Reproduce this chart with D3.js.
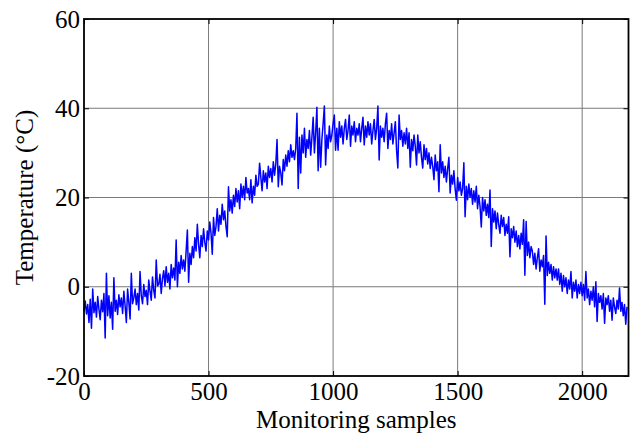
<!DOCTYPE html>
<html>

<head>
    <meta charset="utf-8">
    <script src="https://d3js.org/d3.v7.min.js"></script>
    <style>
        body { margin: 0; background: #fff; }
        text { font-family: "Liberation Serif", "Times New Roman", serif; }
    </style>
    <script>
        // temperature readings, one every 5 monitoring samples
        const sampleStep = 5
        const temperature = [
            -5.5, -3.2, -6.1, -4.0, -8.0, -2.8, -9.3, -0.5, -5.8, -3.5, -6.8, -2.2, -5.0, -7.4, -3.0, -5.6, -1.5, -11.5, 3.0, -6.5,
            -2.0, -7.0, -3.5, -9.5, 2.0, -5.5, -3.0, -6.2, -1.8, -4.5, -2.5, -6.0, -1.0, -4.2, -8.0, -0.5, -3.5, -7.2, 3.0, -3.8,
            -2.5, -0.5, -4.0, -1.5, -5.2, 3.4, -2.0, -3.8, 0.5, -2.2, -0.8, -4.0, 1.5, -1.0, -3.0, 2.2, -0.8, -2.5, 6.0, 0.2,
            0.5, 2.8, -1.5, 1.8, 3.6, 0.2, 4.5, 1.0, 3.0, -0.5, 5.0, 2.0, 4.2, 1.5, 10.5, 0.0, 5.5, 3.0, 7.0, 4.0,
            6.0, 3.5, 8.0, 12.7, 1.0, 7.5, 5.0, 9.0, 6.5, 11.0, 8.0, 14.0, 9.5, 6.5, 11.5, 9.0, 13.0, 10.0, 8.0, 12.5,
            10.5, 14.5, 12.0, 7.3, 15.5, 11.5, 13.5, 17.5, 12.5, 16.0, 14.0, 18.5, 15.0, 17.0, 13.5, 11.2, 22.4, 17.0, 19.5, 16.5,
            20.5, 18.0, 22.0, 19.0, 21.5, 17.5, 23.0, 20.0, 22.5, 19.5, 24.5, 21.0, 22.0, 19.5, 24.0, 18.8, 22.5, 20.5, 25.0, 22.5,
            23.0, 27.7, 24.5, 21.5, 26.0, 23.5, 25.5, 22.0, 27.0, 24.5, 26.5, 23.5, 28.0, 25.0, 27.5, 33.0, 22.4, 27.0, 25.5, 22.8,
            28.5, 26.0, 29.5, 27.0, 30.5, 28.0, 31.8, 29.0, 30.5, 28.5, 31.0, 38.9, 22.0, 33.5, 25.5, 34.0, 30.0, 35.5, 29.0, 33.0,
            31.0, 35.0, 29.5, 33.5, 38.0, 30.0, 34.5, 40.2, 26.0, 35.5, 26.8, 33.0, 36.5, 40.5, 27.3, 34.0, 31.0, 36.0, 32.5, 34.0,
            36.5, 38.5, 30.6, 35.5, 30.6, 37.0, 33.5, 36.0, 32.0, 35.5, 37.5, 33.0, 35.0, 38.5, 31.5, 36.0, 34.0, 37.0, 32.5, 35.5,
            34.0, 36.5, 32.5, 35.5, 38.0, 31.8, 36.0, 33.5, 37.0, 34.0, 36.5, 32.0, 35.0, 37.5, 33.0, 35.5, 40.5, 28.4, 36.0, 33.5,
            35.5, 32.5, 36.5, 38.9, 31.0, 35.0, 33.0, 36.5, 32.0, 34.5, 37.0, 30.5, 26.6, 38.5, 33.0, 35.0, 31.5, 34.5, 32.0, 35.5,
            31.0, 34.5, 26.8, 33.0, 30.5, 34.0, 31.5, 27.3, 34.0, 30.0, 32.5, 29.0, 26.6, 31.8, 28.5, 31.0, 27.5, 30.0, 26.5, 29.0,
            27.0, 24.0, 29.5, 26.0, 28.0, 21.3, 31.8, 25.5, 28.0, 24.5, 27.0, 23.5, 26.5, 29.0, 21.0, 25.0, 23.0, 26.0, 22.0, 19.4,
            24.5, 21.5, 23.5, 20.5, 22.0, 27.8, 15.7, 22.5, 19.5, 23.0, 20.0, 22.0, 18.5, 21.5, 19.0, 22.5, 17.5, 20.5, 18.0, 13.4,
            20.0, 17.0, 19.5, 16.0, 18.5, 15.5, 21.7, 9.0, 17.5, 14.5, 17.0, 13.0, 16.5, 14.0, 12.0, 16.0, 13.5, 15.5, 11.5, 14.0,
            12.0, 15.7, 6.7, 13.0, 11.0, 13.5, 10.0, 12.5, 9.0, 11.5, 8.5, 12.0, 9.5, 15.0, 2.6, 14.6, 7.0, 10.0, 6.5, 9.0,
            8.0, 5.0, 7.5, 4.0, 6.5, 8.5, 3.5, 6.0, 4.5, 7.0, -3.9, 11.4, 2.5, 5.5, 3.0, 5.0, 1.5, 4.5, 2.0, 4.0,
            1.5, 4.0, 0.5, 3.0, -1.0, 2.5, 0.0, 2.0, -1.5, 1.5, -0.5, 3.4, -2.5, 1.0, -1.0, 1.5, -2.5, 0.5, -1.5, 1.0,
            -2.0, 0.5, -3.0, 3.4, -2.5, -0.5, -4.0, -1.0, -3.0, 0.0, -4.5, 1.1, -7.8, -1.5, -3.5, -2.0, -5.0, -1.5, -8.2, -2.5,
            -4.0, -2.0, -5.5, -3.0, -7.5, -2.5, -4.5, -6.0, -3.0, -5.0, -0.3, -5.5, -3.5, -6.5, -4.0, -8.4, -4.5
        ]
        const xTicks = [0, 500, 1000, 1500, 2000]
        const yTicks = [-20, 0, 20, 40, 60]
        const xDomain = [0, 2186]
        const yDomain = [-20, 60]
        const xTitle = "Monitoring samples"
        const yTitle = "Temperature (\u00B0C)"

        const plotLeft = 84, plotRight = 628.5, plotTop = 19, plotBottom = 376

        // plain hyphen minus, no thousands separator
        const tickText = d => String(d)

        function drawChart() {
            const svg = d3.select("#svgContainer")
            const x = d3.scaleLinear().domain(xDomain).range([plotLeft, plotRight])
            const y = d3.scaleLinear().domain(yDomain).range([plotBottom, plotTop])

            // grid
            svg.append("g").selectAll("line")
                .data(xTicks.filter(d => d > 0))
                .join("line")
                .attr("x1", d => x(d)).attr("x2", d => x(d))
                .attr("y1", plotTop).attr("y2", plotBottom)
                .attr("stroke", "#7a7a7a").attr("stroke-width", 1)
            svg.append("g").selectAll("line")
                .data(yTicks.filter(d => d > yDomain[0] && d < yDomain[1]))
                .join("line")
                .attr("x1", plotLeft).attr("x2", plotRight)
                .attr("y1", d => y(d)).attr("y2", d => y(d))
                .attr("stroke", "#7a7a7a").attr("stroke-width", 1)

            // the series
            const line = d3.line()
                .x((d, i) => x(i * sampleStep))
                .y(d => y(d))
            svg.append("path")
                .datum(temperature)
                .attr("d", line)
                .attr("fill", "none")
                .attr("stroke", "#0000ff")
                .attr("stroke-width", 1.5)
                .attr("stroke-linejoin", "round")

            // axes, ticks pointing inward like matlab
            const fontSize = "25px"
            svg.append("g").attr("transform", `translate(0,${plotBottom})`)
                .call(d3.axisBottom(x).tickValues(xTicks).tickFormat(tickText).tickSize(-5).tickPadding(6.5))
            svg.append("g").attr("transform", `translate(${plotLeft},0)`)
                .call(d3.axisLeft(y).tickValues(yTicks).tickFormat(tickText).tickSize(-5).tickPadding(4))
            svg.append("g").attr("transform", `translate(0,${plotTop})`)
                .call(d3.axisTop(x).tickValues(xTicks).tickSize(-5).tickFormat(""))
            svg.append("g").attr("transform", `translate(${plotRight},0)`)
                .call(d3.axisRight(y).tickValues(yTicks).tickSize(-5).tickFormat(""))
            svg.selectAll(".domain").remove()
            svg.selectAll(".tick line").attr("stroke", "#000").attr("stroke-width", 1)
            svg.selectAll(".tick text")
                .attr("fill", "#000")
                .style("font-size", fontSize)
                .style("font-family", "'Liberation Serif', serif")

            svg.append("rect")
                .attr("x", plotLeft).attr("y", plotTop)
                .attr("width", plotRight - plotLeft).attr("height", plotBottom - plotTop)
                .attr("fill", "none").attr("stroke", "#000").attr("stroke-width", 1.8)

            svg.append("text")
                .attr("x", (plotLeft + plotRight) / 2)
                .attr("y", 428)
                .attr("text-anchor", "middle")
                .style("font-size", fontSize)
                .text(xTitle)
            svg.append("text")
                .attr("transform", `translate(33,${(plotTop + plotBottom) / 2}) rotate(-90)`)
                .attr("text-anchor", "middle")
                .style("font-size", fontSize)
                .text(yTitle)
        }
    </script>
</head>

<body onload="drawChart()">
    <svg id="svgContainer" width="637" height="434">
    </svg>
</body>

</html>
